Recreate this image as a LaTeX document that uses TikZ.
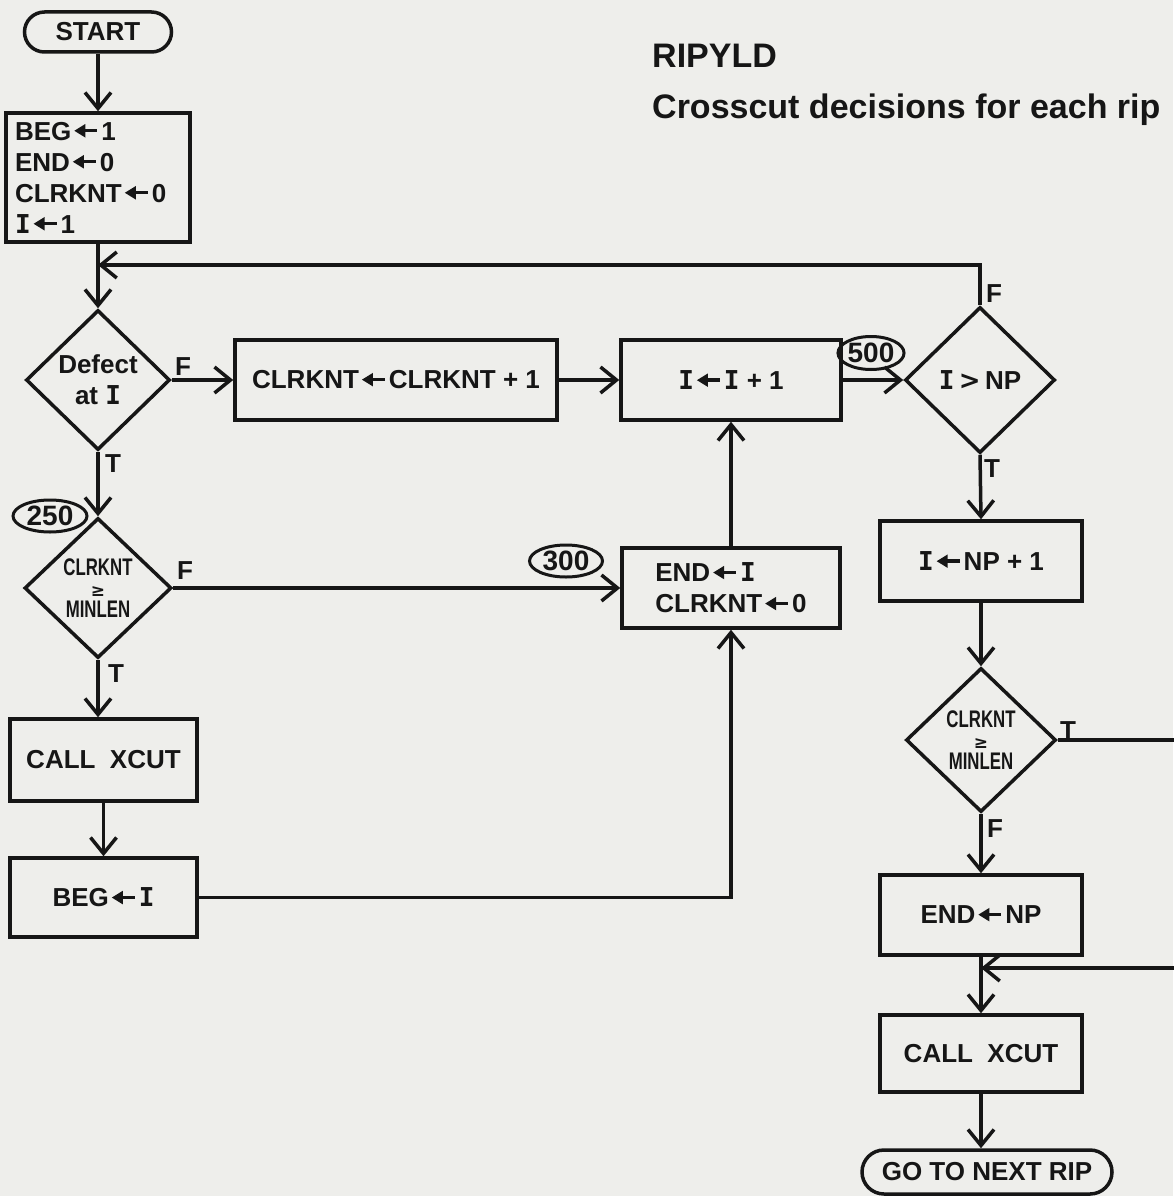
\documentclass[tikz,border=0pt]{standalone}
\usepackage{fontspec}
\setmainfont{Liberation Sans}
\newfontfamily\symf{DejaVu Sans}
\newfontfamily\monof{DejaVu Sans Mono}
\newfontfamily\narrowf[FakeStretch=0.7]{Liberation Sans}
\usetikzlibrary{shapes.geometric,arrows.meta}
\definecolor{paper}{RGB}{238,238,235}
\definecolor{ink}{RGB}{22,22,22}
\newcommand\la{\kern3pt\tikz[x=1pt,y=1pt,baseline=0pt]{\fill[ink] (0,9.3)--(11,2.5)--(11,16.1)--cycle; \fill[ink] (9,7.6) rectangle (23,11);}\kern4pt}
\newcommand\vI{{\monof\bfseries I}}
\newcommand\bxf{\fontsize{26}{31}\selectfont\bfseries}
\newcommand\nrf{\narrowf\fontsize{24}{21}\selectfont\bfseries}
\newcommand\gef{{\symf\bfseries\fontsize{17}{17}\selectfont ≥}}
\begin{document}
\begin{tikzpicture}[x=1pt,y=-1pt,
  ln/.style={line width=3.5pt, draw=ink},
  arr/.style={ln, -{Straight Barb[length=16pt,width=26pt,line width=3.5pt]}},
  box/.style={draw=ink, line width=3.5pt, rectangle, inner sep=0pt, font=\bxf, text=ink},
  term/.style={box, rounded corners=20pt},
  dec/.style={diamond, draw=ink, line width=3.5pt, inner sep=0pt, aspect=1},
  num/.style={ellipse, draw=ink, line width=3pt, inner sep=0pt, font=\fontsize{28}{30}\selectfont\bfseries, text=ink},
  tf/.style={font=\bxf, text=ink, inner sep=0pt},
  ttl/.style={font=\fontsize{34}{40}\selectfont\bfseries, text=ink, inner sep=0pt, anchor=base west}]
\fill[paper] (0,0) rectangle (1173,1196);
\useasboundingbox (0,0) rectangle (1173,1196);

% title
\node[ttl] (t1) at (652,68) {RIPYLD};
\node[ttl] (t2) at (652,119) {Crosscut decisions for each rip};

% left column
\node[term, minimum width=147pt, minimum height=40pt] (start) at (98,32) {START};
\node[box, minimum width=184pt, minimum height=129pt, text width=166pt, align=left] (init) at (98,177.5)
  {BEG\la1\\END\la0\\CLRKNT\la0\\\vI\la1};
\node[dec, minimum width=144pt, minimum height=140pt,
  label={[tf, align=center]center:{Defect\\at \vI}}] (d1) at (98,380) {};
\node[dec, minimum width=147pt, minimum height=140pt,
  label={[inner sep=0pt, align=center, font=\nrf, text=ink]center:{CLRKNT\\\gef\\MINLEN}}] (d2) at (98,588) {};
\node[box, minimum width=187pt, minimum height=82pt] (call1) at (103.5,760) {CALL\ \ XCUT};
\node[box, minimum width=187pt, minimum height=79pt] (beg) at (103.5,897.5) {BEG\la\vI};

% middle
\node[box, minimum width=322pt, minimum height=80pt] (box2) at (396,380) {CLRKNT\la CLRKNT + 1};
\node[box, minimum width=220pt, minimum height=80pt] (box3) at (731,380) {\vI\la\vI\ + 1};
\node[box, minimum width=218pt, minimum height=80pt, align=left] (endI) at (731,588) {END\la\vI\\CLRKNT\la0};

% right column
\node[dec, minimum width=150pt, minimum height=146pt,
  label={[tf]center:{\vI\,{\symf\bfseries >}\,NP}}] (d3) at (980,380) {};
\node[box, minimum width=202pt, minimum height=80pt] (npp1) at (981,561) {\vI\la NP + 1};
\node[dec, minimum width=150pt, minimum height=144pt,
  label={[inner sep=0pt, align=center, font=\nrf, text=ink]center:{CLRKNT\\\gef\\MINLEN}}] (d4) at (981,740) {};
\node[box, minimum width=202pt, minimum height=80pt] (endnp) at (981,915) {END\la NP};
\node[box, minimum width=202pt, minimum height=77pt] (call2) at (981,1053.5) {CALL\ \ XCUT};
\node[term, minimum width=250pt, minimum height=44pt, rounded corners=22pt] (next) at (987,1172) {GO TO NEXT RIP};

% connector numbers
\node[num, minimum width=74pt, minimum height=32pt] (n250) at (50,516) {250};
\node[num, minimum width=58pt, minimum height=33pt] (n500) at (871,353) {500};
\node[num, minimum width=73pt, minimum height=32pt] (n300) at (566,561) {300};

% T/F labels
\node[tf] (d1f) at (183,367) {F};
\node[tf] (d1t) at (113,464) {T};
\node[tf] (d2f) at (185,571) {F};
\node[tf] (d2t) at (116,674) {T};
\node[tf] (d3f) at (994,294) {F};
\node[tf] (d3t) at (992,469) {T};
\node[tf] (d4t) at (1068,731) {T};
\node[tf] (d4f) at (995,829) {F};

% connectors
\coordinate (j1) at (98,265);
\coordinate (j2) at (981,968);
\coordinate (r1) at (1200,740);
\draw[arr] (start) -- (init);
\draw[arr] (init.south) -- (d1.north);
\draw[arr] (d3.north) |- (j1);
\draw[arr] (d1.east) -- (box2.west);
\draw[arr] (box2) -- (box3);
\draw[arr] (box3) -- (d3.west);
\draw[arr] (d1.south) -- (d2.north);
\draw[arr] (d2.east) -- (endI.west);
\draw[arr] (endI.north) -- (box3.south);
\draw[arr] (d2.south) -- (d2.south |- call1.north);
\draw[arr] (call1) -- (beg);
\draw[arr] (beg.east) -| (endI.south);
\draw[arr] (d3.south) -- (npp1.north);
\draw[arr] (npp1) -- (d4);
\draw[arr] (d4.south) -- (endnp.north);
\draw[arr] (endnp) -- (call2);
\draw[arr] (d4.east) -- (d4.east -| r1) |- (j2);
\draw[arr] (call2.south) -- (call2.south |- next.north);
\end{tikzpicture}
\end{document}
